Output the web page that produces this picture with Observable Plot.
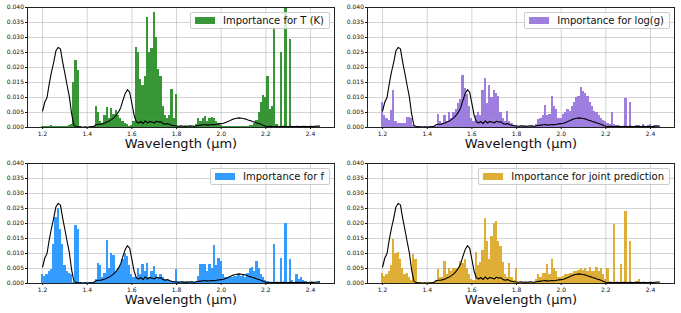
<!DOCTYPE html>
<html>
<head>
<meta charset="utf-8">
<script src="https://cdn.jsdelivr.net/npm/d3@7"></script>
<script src="https://cdn.jsdelivr.net/npm/@observablehq/plot@0.6"></script>
<style>
  html, body { margin: 0; padding: 0; background: #fff; }
  #chart { position: relative; width: 681px; height: 313px; background: #fff; font-family: "DejaVu Sans", sans-serif; }
  .panel { position: absolute; width: 340px; height: 156px; }
  .legend { position: absolute; top: 12px; right: 10px; height: 15px; display: flex; align-items: center;
    border: 1px solid #cccccc; border-radius: 2px; background: rgba(255,255,255,0.8);
    padding: 0 5px 0 4px; font-size: 10px; color: #111; white-space: nowrap; }
  .legend .patch { width: 20px; height: 7px; margin-right: 8px; }
</style>
</head>
<body>
<div id="chart"></div>
<script>
// Bin centres: 1.20 ... 2.44 µm, step 0.01
const binStart = 1.20, binWidth = 0.01;

const xTicks = [1.2, 1.4, 1.6, 1.8, 2.0, 2.2, 2.4];
const yTicks = [0, 0.005, 0.010, 0.015, 0.020, 0.025, 0.030, 0.035, 0.040];
const xLabel = "Wavelength (µm)";

// Scaled spectrum (black line)
const spectrum = [
  0.0055, 0.0085, 0.0100, 0.0146, 0.0185, 0.0218, 0.0256, 0.0267, 0.0262, 0.0218,
  0.0180, 0.0140, 0.0102, 0.0046, 0.0008, 0.0003, 0.0002, 0.0002, 0.0001, 0.0002,
  0.0001, 0.0002, 0.0002, 0.0004, 0.0009, 0.0011, 0.0011, 0.0013, 0.0015, 0.0019,
  0.0022, 0.0027, 0.0033, 0.0041, 0.0052, 0.0066, 0.0091, 0.0113, 0.0126, 0.0118,
  0.0080, 0.0041, 0.0019, 0.0015, 0.0020, 0.0013, 0.0022, 0.0015, 0.0020, 0.0018,
  0.0015, 0.0021, 0.0018, 0.0019, 0.0013, 0.0011, 0.0013, 0.0009, 0.0007, 0.0006,
  0.0005, 0.0004, 0.0006, 0.0004, 0.0005, 0.0004, 0.0006, 0.0005, 0.0004, 0.0006,
  0.0007, 0.0008, 0.0009, 0.0010, 0.0008, 0.0009, 0.0010, 0.0009, 0.0011, 0.0012,
  0.0013, 0.0014, 0.0017, 0.0020, 0.0023, 0.0027, 0.0029, 0.0031, 0.0032, 0.0031,
  0.0030, 0.0028, 0.0025, 0.0023, 0.0020, 0.0018, 0.0015, 0.0013, 0.0010, 0.0007,
  0.0004, 0.0003, 0.0004, 0.0003, 0.0003, 0.0004, 0.0003, 0.0003, 0.0004, 0.0003,
  0.0003, 0.0004, 0.0003, 0.0003, 0.0004, 0.0003, 0.0003, 0.0004, 0.0003, 0.0003,
  0.0004, 0.0003, 0.0004, 0.0005, 0.0005
];

const importanceT = [
  0.0003, 0.0003, 0.0005, 0.0005, 0.0006, 0.0004, 0.0003, 0.0002, 0.0002, 0.0003,
  0.0003, 0.0005, 0.0008, 0.0010, 0.0150, 0.0222, 0.0190, 0.0003, 0.0001, 0.0001,
  0.0001, 0.0001, 0.0002, 0.0003, 0.0071, 0.0050, 0.0020, 0.0015, 0.0040, 0.0068,
  0.0030, 0.0065, 0.0045, 0.0057, 0.0040, 0.0030, 0.0020, 0.0015, 0.0010, 0.0005,
  0.0008, 0.0020, 0.0268, 0.0250, 0.0160, 0.0140, 0.0170, 0.0368, 0.0250, 0.0265,
  0.0384, 0.0300, 0.0195, 0.0170, 0.0070, 0.0040, 0.0030, 0.0040, 0.0128, 0.0030,
  0.0110, 0.0005, 0.0003, 0.0003, 0.0004, 0.0003, 0.0003, 0.0004, 0.0005, 0.0010,
  0.0030, 0.0020, 0.0030, 0.0036, 0.0020, 0.0030, 0.0035, 0.0030, 0.0020, 0.0012,
  0.0008, 0.0005, 0.0004, 0.0004, 0.0005, 0.0004, 0.0004, 0.0005, 0.0004, 0.0004,
  0.0005, 0.0004, 0.0005, 0.0006, 0.0008, 0.0012, 0.0023, 0.0050, 0.0085, 0.0107,
  0.0100, 0.0170, 0.0060, 0.0070, 0.0335, 0.0010, 0.0005, 0.0250, 0.0003, 0.0400,
  0.0003, 0.0295, 0.0002, 0.0002, 0.0002, 0.0002, 0.0002, 0.0002, 0.0002, 0.0002,
  0.0002, 0.0002, 0.0003, 0.0004, 0.0003
];

const importanceLogg = [
  0.0085, 0.0040, 0.0030, 0.0025, 0.0057, 0.0124, 0.0020, 0.0015, 0.0012, 0.0012,
  0.0015, 0.0034, 0.0034, 0.0030, 0.0008, 0.0003, 0.0002, 0.0002, 0.0002, 0.0002,
  0.0002, 0.0002, 0.0002, 0.0002, 0.0003, 0.0045, 0.0020, 0.0015, 0.0040, 0.0020,
  0.0050, 0.0030, 0.0050, 0.0060, 0.0080, 0.0095, 0.0173, 0.0130, 0.0110, 0.0070,
  0.0030, 0.0020, 0.0040, 0.0050, 0.0040, 0.0123, 0.0162, 0.0080, 0.0140, 0.0100,
  0.0124, 0.0112, 0.0105, 0.0050, 0.0030, 0.0020, 0.0055, 0.0020, 0.0012, 0.0008,
  0.0008, 0.0005, 0.0005, 0.0006, 0.0005, 0.0004, 0.0005, 0.0006, 0.0005, 0.0010,
  0.0027, 0.0030, 0.0040, 0.0075, 0.0040, 0.0045, 0.0105, 0.0070, 0.0060, 0.0030,
  0.0030, 0.0045, 0.0050, 0.0060, 0.0055, 0.0070, 0.0085, 0.0100, 0.0105, 0.0134,
  0.0120, 0.0115, 0.0105, 0.0085, 0.0070, 0.0055, 0.0050, 0.0040, 0.0030, 0.0025,
  0.0020, 0.0015, 0.0010, 0.0050, 0.0010, 0.0008, 0.0008, 0.0005, 0.0005, 0.0096,
  0.0005, 0.0084, 0.0005, 0.0005, 0.0006, 0.0008, 0.0005, 0.0010, 0.0005, 0.0006,
  0.0010, 0.0005, 0.0006, 0.0008, 0.0005
];

const importanceF = [
  0.0030, 0.0025, 0.0030, 0.0040, 0.0046, 0.0130, 0.0220, 0.0250, 0.0180, 0.0130,
  0.0060, 0.0040, 0.0035, 0.0030, 0.0005, 0.0195, 0.0180, 0.0003, 0.0005, 0.0003,
  0.0003, 0.0003, 0.0002, 0.0003, 0.0015, 0.0068, 0.0060, 0.0020, 0.0035, 0.0142,
  0.0050, 0.0100, 0.0095, 0.0040, 0.0050, 0.0060, 0.0080, 0.0100, 0.0090, 0.0060,
  0.0030, 0.0020, 0.0020, 0.0050, 0.0030, 0.0065, 0.0040, 0.0068, 0.0020, 0.0040,
  0.0058, 0.0030, 0.0020, 0.0030, 0.0020, 0.0015, 0.0010, 0.0010, 0.0008, 0.0008,
  0.0048, 0.0006, 0.0005, 0.0006, 0.0005, 0.0006, 0.0005, 0.0006, 0.0005, 0.0006,
  0.0025, 0.0063, 0.0063, 0.0065, 0.0040, 0.0062, 0.0050, 0.0127, 0.0060, 0.0082,
  0.0075, 0.0030, 0.0020, 0.0020, 0.0025, 0.0020, 0.0025, 0.0025, 0.0030, 0.0025,
  0.0030, 0.0020, 0.0035, 0.0050, 0.0055, 0.0040, 0.0074, 0.0050, 0.0030, 0.0020,
  0.0010, 0.0008, 0.0005, 0.0005, 0.0129, 0.0005, 0.0005, 0.0082, 0.0005, 0.0199,
  0.0005, 0.0080, 0.0010, 0.0005, 0.0030, 0.0015, 0.0020, 0.0010, 0.0008, 0.0005,
  0.0005, 0.0008, 0.0005, 0.0005, 0.0008
];

const importanceJoint = [
  0.0035, 0.0025, 0.0030, 0.0040, 0.0060, 0.0146, 0.0100, 0.0105, 0.0080, 0.0050,
  0.0030, 0.0035, 0.0020, 0.0010, 0.0096, 0.0080, 0.0005, 0.0003, 0.0003, 0.0003,
  0.0003, 0.0003, 0.0003, 0.0003, 0.0010, 0.0046, 0.0020, 0.0020, 0.0074, 0.0030,
  0.0050, 0.0040, 0.0050, 0.0050, 0.0050, 0.0074, 0.0068, 0.0079, 0.0050, 0.0030,
  0.0015, 0.0010, 0.0102, 0.0060, 0.0070, 0.0110, 0.0218, 0.0140, 0.0080, 0.0157,
  0.0200, 0.0207, 0.0140, 0.0124, 0.0070, 0.0030, 0.0020, 0.0066, 0.0020, 0.0010,
  0.0050, 0.0005, 0.0005, 0.0005, 0.0005, 0.0005, 0.0005, 0.0005, 0.0005, 0.0015,
  0.0030, 0.0020, 0.0035, 0.0035, 0.0063, 0.0030, 0.0080, 0.0050, 0.0040, 0.0020,
  0.0020, 0.0025, 0.0030, 0.0030, 0.0035, 0.0035, 0.0040, 0.0040, 0.0045, 0.0050,
  0.0045, 0.0050, 0.0040, 0.0052, 0.0040, 0.0040, 0.0052, 0.0040, 0.0050, 0.0030,
  0.0015, 0.0050, 0.0005, 0.0005, 0.0198, 0.0005, 0.0005, 0.0065, 0.0005, 0.0240,
  0.0005, 0.0140, 0.0005, 0.0005, 0.0008, 0.0015, 0.0005, 0.0003, 0.0003, 0.0003,
  0.0003, 0.0003, 0.0003, 0.0003, 0.0003
];

const panels = [
  { values: importanceT,     color: "#228B22", label: "Importance for T (K)",           left: 0,   top: 0 },
  { values: importanceLogg,  color: "#9370DB", label: "Importance for log(g)",          left: 340, top: 0 },
  { values: importanceF,     color: "#1E90FF", label: "Importance for f",               left: 0,   top: 156 },
  { values: importanceJoint, color: "#DAA520", label: "Importance for joint prediction", left: 340, top: 156 }
];

function makePanel(p) {
  const rows = p.values.map((v, i) => ({ w: binStart + i * binWidth, v, s: spectrum[i] }));
  return Plot.plot({
    width: 340, height: 156,
    marginLeft: 27, marginRight: 6, marginTop: 7, marginBottom: 29,
    style: { fontFamily: "DejaVu Sans, sans-serif", fontSize: "6px", background: "white", overflow: "visible", color: "#111" },
    x: { domain: [1.1325, 2.5075] },
    y: { domain: [0, 0.04] },
    marks: [
      Plot.gridX(xTicks, { stroke: "#b0b0b0", strokeOpacity: 0.55, strokeWidth: 1 }),
      Plot.gridY(yTicks, { stroke: "#b0b0b0", strokeOpacity: 0.55, strokeWidth: 1 }),
      Plot.rect(rows, { x1: d => d.w - binWidth / 2, x2: d => d.w + binWidth / 2, y1: 0, y2: "v", fill: p.color, fillOpacity: 0.9, shapeRendering: "crispEdges" }),
      Plot.line(rows, { x: "w", y: "s", stroke: "black", strokeWidth: 1.1 }),
      Plot.frame({ stroke: "#222", strokeWidth: 1 }),
      Plot.axisX(xTicks, { tickSize: 2, tickPadding: 2, tickFormat: d3.format(".1f"), label: null }),
      Plot.axisY(yTicks, { tickSize: 2, tickPadding: 1.5, tickFormat: d3.format(".3f"), label: null }),
      Plot.text([xLabel], { frameAnchor: "bottom", dy: 20, fontSize: 13, fill: "#111" })
    ]
  });
}

const chart = document.getElementById("chart");
for (const p of panels) {
  const wrap = document.createElement("div");
  wrap.className = "panel";
  wrap.style.left = p.left + "px";
  wrap.style.top = p.top + "px";
  wrap.appendChild(makePanel(p));
  const leg = document.createElement("div");
  leg.className = "legend";
  const patch = document.createElement("span");
  patch.className = "patch";
  patch.style.background = p.color;
  patch.style.opacity = 0.9;
  const txt = document.createElement("span");
  txt.textContent = p.label;
  leg.appendChild(patch);
  leg.appendChild(txt);
  wrap.appendChild(leg);
  chart.appendChild(wrap);
}
</script>
</body>
</html>
